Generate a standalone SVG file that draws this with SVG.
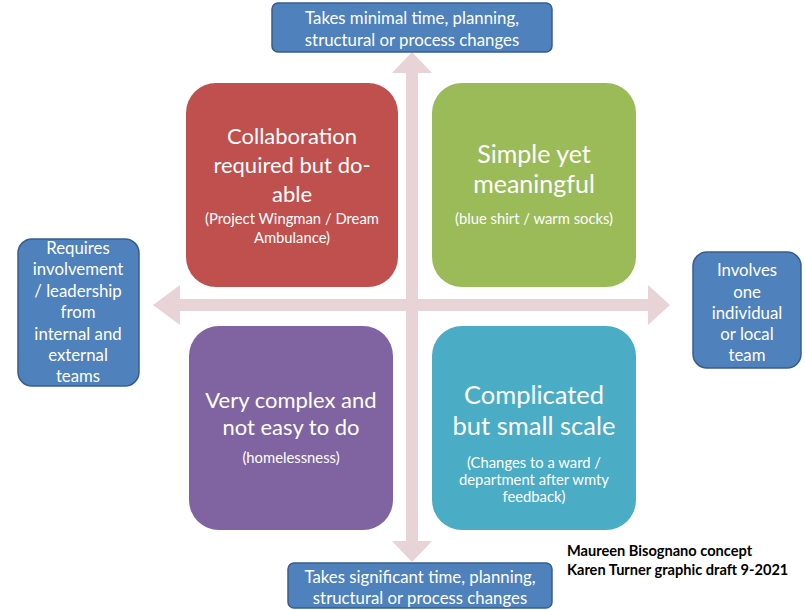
<svg xmlns="http://www.w3.org/2000/svg" width="805" height="610" viewBox="0 0 805 610">
  <style>
    text { font-family: Lato, "Open Sans", "Liberation Sans", sans-serif; fill: #ffffff; text-anchor: middle; }
    .axis { fill: #e8d3d6; }
    .side { fill: #4f81bd; stroke: #385d8a; stroke-width: 1.5; }
    .sideText { font-size: 16.8px; }
    .title { font-size: 22px; }
    .note { font-size: 14.8px; }
    .credit { fill: #000000; font-weight: bold; font-size: 14.6px; text-anchor: start; }
  </style>
  <rect width="805" height="610" fill="#ffffff"/>

  <!-- axis arrows -->
  <g id="connectors">
    <polygon class="axis" points="412,52 432,73 418,73 418,541 432,541 412,562 392,541 406,541 406,73 392,73"/>
    <polygon class="axis" points="153,305 180,285 180,299 648,299 648,285 670,305 648,325 648,311 180,311 180,325"/>
  </g>

  <g id="top-label">
    <rect class="side" x="272" y="3" width="280" height="49" rx="6"/>
    <text class="sideText" x="412" y="24">Takes minimal time, planning,</text>
    <text class="sideText" x="412" y="46">structural or process changes</text>
  </g>

  <g id="bottom-label">
    <rect class="side" x="288" y="563" width="264" height="45" rx="6"/>
    <text class="sideText" x="420" y="583">Takes significant time, planning,</text>
    <text class="sideText" x="420" y="604">structural or process changes</text>
  </g>

  <g id="left-label">
    <rect class="side" x="18" y="239" width="121" height="147" rx="14"/>
    <text class="sideText" x="78" y="254">Requires</text>
    <text class="sideText" x="78" y="275">involvement</text>
    <text class="sideText" x="78" y="297">/ leadership</text>
    <text class="sideText" x="78" y="318">from</text>
    <text class="sideText" x="78" y="340">internal and</text>
    <text class="sideText" x="78" y="361">external</text>
    <text class="sideText" x="78" y="382">teams</text>
  </g>

  <g id="right-label">
    <rect class="side" x="693" y="252" width="108" height="116" rx="14"/>
    <text class="sideText" x="747" y="276">Involves</text>
    <text class="sideText" x="747" y="298">one</text>
    <text class="sideText" x="747" y="319">individual</text>
    <text class="sideText" x="747" y="340">or local</text>
    <text class="sideText" x="747" y="361">team</text>
  </g>

  <g id="collaboration">
    <rect x="186" y="83" width="212" height="204" rx="30" fill="#c0504d"/>
    <text class="title" x="292" y="144">Collaboration</text>
    <text class="title" x="292" y="173">required but do-</text>
    <text class="title" x="292" y="202">able</text>
    <text class="note" x="292" y="224">(Project Wingman / Dream</text>
    <text class="note" x="292" y="243">Ambulance)</text>
  </g>

  <g id="simple">
    <rect x="432" y="83" width="204" height="204" rx="30" fill="#9bbb59"/>
    <text class="title" x="534" y="163" style="font-size:25px">Simple yet</text>
    <text class="title" x="534" y="193" style="font-size:25px">meaningful</text>
    <text class="note" x="534" y="224">(blue shirt / warm socks)</text>
  </g>

  <g id="very-complex">
    <rect x="189" y="326" width="204" height="204" rx="30" fill="#8064a2"/>
    <text class="title" x="291" y="408">Very complex and</text>
    <text class="title" x="291" y="435">not easy to do</text>
    <text class="note" x="291" y="463">(homelessness)</text>
  </g>

  <g id="complicated">
    <rect x="432" y="326" width="204" height="204" rx="30" fill="#4bacc6"/>
    <text class="title" x="534" y="404" style="font-size:25.5px">Complicated</text>
    <text class="title" x="534" y="435" style="font-size:25.5px">but small scale</text>
    <text class="note" x="534" y="468">(Changes to a ward /</text>
    <text class="note" x="534" y="485">department after wmty</text>
    <text class="note" x="534" y="502">feedback)</text>
  </g>

  <g id="credits">
    <text class="credit" x="567" y="556">Maureen Bisognano concept</text>
    <text class="credit" x="567" y="575">Karen Turner graphic draft 9-2021</text>
  </g>
</svg>
